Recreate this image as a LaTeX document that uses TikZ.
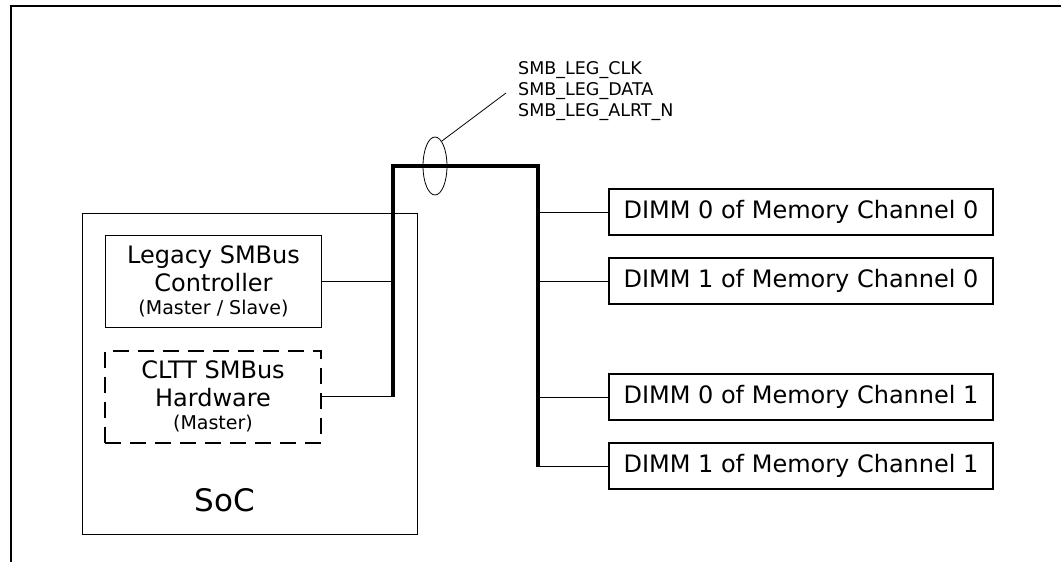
\documentclass[tikz,border=0pt]{standalone}
\usepackage{fontspec}
\setmainfont{DejaVu Sans}
\usetikzlibrary{shapes.geometric}

\begin{document}
\begin{tikzpicture}[x=1pt,y=-1pt,
    box/.style={draw,line width=1pt,inner sep=0pt,align=center,font=\fontsize{24}{28}\selectfont},
    dimmbox/.style={box,line width=1.2pt,minimum width=384pt,minimum height=46pt},
    ctrlbox/.style={box,minimum width=216pt,minimum height=92pt},
    wire/.style={line width=0.8pt},
    bus/.style={line width=3.5pt,line join=miter}]
  \useasboundingbox (0,0) rectangle (1061,562);
  \draw[line width=2pt] (1061,6) -- (11,6) -- (11,563);
  \node[box,minimum width=335pt,minimum height=321pt] (soc) at (249.5,373.5) {};
  \node[font=\fontsize{31}{36}\selectfont] (soclbl) at (225,500) {SoC};
  \node[ctrlbox] (legacy) at (213.5,281.5) {Legacy SMBus\\Controller\\[-5pt]{\fontsize{19}{22}\selectfont (Master / Slave)}};
  \node[ctrlbox,line width=2pt,dash pattern=on 16pt off 9pt] (cltt) at (213,396.5) {CLTT SMBus\\Hardware\\[-5pt]{\fontsize{19}{22}\selectfont (Master)}};
  \coordinate (busA) at (393,397);
  \coordinate (busB) at (393,166);
  \coordinate (busC) at (538,166);
  \coordinate (busD) at (538,467);
  \draw[bus] (busA) -- (busB) -- (busC) -- (busD);
  \draw[wire] (legacy) -- (legacy -| busB);
  \draw[wire] (cltt) -- (cltt -| busB);
  \foreach \d/\c/\yy in {0/0/212,1/0/281,0/1/397,1/1/466} {
    \node[dimmbox] (dimm\d c\c) at (801,\yy) {DIMM \d{} of Memory Channel \c};
    \draw[wire] (dimm\d c\c) -- (dimm\d c\c -| busC);
  }
  \node[draw,ellipse,line width=0.8pt,minimum width=24pt,minimum height=58pt,inner sep=0pt] (bundle) at (435,166) {};
  \node[anchor=west,inner sep=0pt,align=left,font=\fontsize{17.5}{21}\selectfont] (sigs) at (518,91) {SMB\_LEG\_CLK\\SMB\_LEG\_DATA\\SMB\_LEG\_ALRT\_N};
  \coordinate (tip) at (506,93);
  \draw[wire] (bundle.75) -- (tip);
\end{tikzpicture}
\end{document}
